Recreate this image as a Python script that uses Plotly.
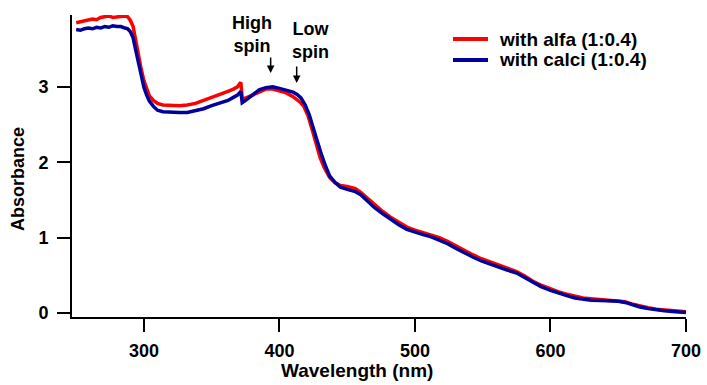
import plotly.graph_objects as go

# Wavelength (nm) and absorbance
wl_alfa = [250, 253, 256, 259, 262, 265, 268, 271, 274, 277, 280, 283, 286, 288, 290, 292, 294, 296, 298, 300,
           302, 304, 307, 310, 314, 320, 326, 332, 338, 344, 350, 356, 362, 366, 369, 371.5, 372.5, 375, 380, 385,
           390, 395, 400, 405, 410, 415, 418, 421, 424, 427, 430, 433, 437, 441, 445, 450, 456, 460, 465, 470,
           476, 482, 488, 494, 500, 506, 512, 518, 524, 531, 537, 543, 549, 555, 562, 568, 575, 581, 587, 593,
           600, 606, 612, 618, 624, 630, 637, 644, 650, 655, 660, 666, 672, 678, 684, 690, 695, 700]
abs_alfa = [3.85, 3.86, 3.87, 3.89, 3.90, 3.89, 3.92, 3.93, 3.94, 3.92, 3.93, 3.93, 3.94, 3.93, 3.88, 3.80, 3.60, 3.40, 3.23, 3.08,
            2.96, 2.88, 2.82, 2.78, 2.76, 2.75, 2.75, 2.76, 2.78, 2.82, 2.86, 2.89, 2.94, 2.97, 3.00, 3.06, 2.85, 2.85, 2.89, 2.94,
            2.97, 2.97, 2.95, 2.92, 2.87, 2.80, 2.74, 2.62, 2.44, 2.24, 2.06, 1.93, 1.80, 1.73, 1.69, 1.68, 1.65, 1.60, 1.52, 1.44,
            1.35, 1.27, 1.20, 1.14, 1.10, 1.07, 1.04, 1.00, 0.95, 0.88, 0.82, 0.77, 0.72, 0.68, 0.63, 0.59, 0.55, 0.49, 0.42, 0.37,
            0.32, 0.28, 0.25, 0.22, 0.20, 0.19, 0.18, 0.175, 0.165, 0.15, 0.12, 0.09, 0.07, 0.05, 0.04, 0.03, 0.02, 0.015]

wl_calci = [250, 253, 256, 259, 262, 265, 268, 271, 274, 277, 280, 283, 286, 288, 290, 292, 294, 296, 298, 300,
            302, 304, 307, 310, 314, 320, 326, 332, 338, 344, 350, 356, 362, 366, 369, 371.5, 372.5, 375, 380, 385,
            390, 395, 400, 405, 410, 413, 416, 419, 422, 425, 428, 431, 434, 437, 441, 445, 450, 456, 460, 465,
            470, 476, 482, 488, 494, 500, 506, 512, 518, 524, 531, 537, 543, 549, 555, 562, 568, 575, 581, 587,
            593, 600, 606, 612, 618, 624, 630, 637, 644, 650, 655, 660, 666, 672, 678, 684, 690, 695, 700]
abs_calci = [3.76, 3.75, 3.77, 3.78, 3.77, 3.79, 3.78, 3.80, 3.79, 3.81, 3.80, 3.80, 3.78, 3.77, 3.73, 3.65, 3.48, 3.30, 3.12, 2.99,
             2.89, 2.81, 2.74, 2.69, 2.67, 2.66, 2.66, 2.66, 2.68, 2.71, 2.75, 2.78, 2.82, 2.86, 2.89, 2.94, 2.79, 2.82, 2.89, 2.96,
             2.99, 3.00, 2.98, 2.96, 2.93, 2.90, 2.85, 2.76, 2.63, 2.45, 2.26, 2.10, 1.95, 1.82, 1.73, 1.67, 1.64, 1.61, 1.57, 1.49,
             1.40, 1.32, 1.24, 1.17, 1.11, 1.07, 1.04, 1.01, 0.97, 0.92, 0.85, 0.79, 0.74, 0.69, 0.65, 0.61, 0.57, 0.53, 0.47, 0.40,
             0.35, 0.30, 0.26, 0.23, 0.20, 0.18, 0.17, 0.165, 0.16, 0.155, 0.14, 0.11, 0.08, 0.06, 0.04, 0.03, 0.02, 0.01, 0.005]

x_ticks = [300, 400, 500, 600, 700]
y_ticks = [0, 1, 2, 3]
series_names = ["with alfa (1:0.4)", "with calci (1:0.4)"]
series_colors = ["#FF0000", "#00009C"]

FONT = "Liberation Sans, Arial, sans-serif"

fig = go.Figure()
fig.add_trace(go.Scatter(x=wl_alfa, y=abs_alfa, mode="lines", name=series_names[0],
                         line=dict(color=series_colors[0], width=3.5), showlegend=False))
fig.add_trace(go.Scatter(x=wl_calci, y=abs_calci, mode="lines", name=series_names[1],
                         line=dict(color=series_colors[1], width=3.5), showlegend=False))

axis_common = dict(showline=True, linecolor="black", linewidth=2, ticks="outside", ticklen=13,
                   tickwidth=2, tickcolor="black", showgrid=False, zeroline=False, automargin=False,
                   tickfont=dict(family=FONT, size=18, color="black", weight="bold"))

fig.update_xaxes(range=[246.9, 700], tickvals=x_ticks, ticklabelstandoff=3, **axis_common)
fig.update_yaxes(range=[-0.053, 3.953], tickvals=y_ticks, ticklabelstandoff=5, **axis_common)

ann_font = dict(family=FONT, size=18, color="black", weight="bold")
annotations = [
    dict(text="Wavelength (nm)", xref="x", yref="paper", x=457, y=-0.176, showarrow=False,
         xanchor="center", yanchor="middle", font=dict(family=FONT, size=19, color="black", weight="bold")),
    dict(text="Absorbance", xref="paper", yref="paper", x=-0.088, y=0.457, showarrow=False,
         textangle=-90, xanchor="center", yanchor="middle", font=ann_font),
    dict(text="High<br>spin", xref="x", yref="y", x=379.7, y=3.69, showarrow=False,
         xanchor="center", yanchor="middle", font=ann_font),
    dict(text="Low<br>spin", xref="x", yref="y", x=423.2, y=3.62, showarrow=False,
         xanchor="center", yanchor="middle", font=ann_font),
    dict(text="", xref="x", yref="y", x=393.5, y=3.185, ax=0, ay=-17, showarrow=True,
         arrowhead=2, arrowsize=1, arrowwidth=1.5, arrowcolor="black"),
    dict(text="", xref="x", yref="y", x=412.7, y=3.05, ax=0, ay=-18, showarrow=True,
         arrowhead=2, arrowsize=1, arrowwidth=1.5, arrowcolor="black"),
]

# Hand-built legend (rows closer together than Plotly's own legend allows)
legend_rows_y = [0.9205, 0.851]
shapes = []
for name, color, yy in zip(series_names, series_colors, legend_rows_y):
    shapes.append(dict(type="line", xref="paper", yref="paper", x0=0.6205, x1=0.6775, y0=yy, y1=yy,
                       line=dict(color=color, width=4)))
    annotations.append(dict(text=name, xref="paper", yref="paper", x=0.6922, y=yy, showarrow=False,
                            xanchor="left", yanchor="middle",
                            font=dict(family=FONT, size=19, color="black", weight="bold")))

fig.update_layout(
    width=707, height=385,
    margin=dict(l=72, r=21, t=15, b=68, autoexpand=False),
    plot_bgcolor="white", paper_bgcolor="white",
    annotations=annotations,
    shapes=shapes,
    showlegend=False,
)

fig.write_html("out.html", config={"displayModeBar": False},
               post_script="document.body.style.margin='0';document.body.style.overflow='hidden';")
